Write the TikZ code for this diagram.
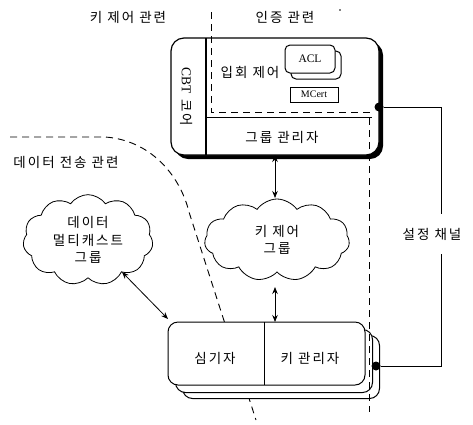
\documentclass[tikz,border=0pt]{standalone}
\usepackage{fontspec}
\setmainfont{Liberation Serif}
\newfontfamily\kr[LetterSpace=15]{Noto Sans CJK KR}
\usetikzlibrary{shapes.symbols,arrows.meta}
\begin{document}
\begin{tikzpicture}[x=1pt,y=-1pt,
  kt/.style={font=\kr\fontsize{13.5}{16}\selectfont, inner sep=1pt},
  dsh/.style={dash pattern=on 7pt off 5pt, line width=0.9pt},
  arr/.style={{Stealth[length=7pt,width=5.5pt]}-{Stealth[length=7pt,width=5.5pt]}, line width=0.8pt},
  box/.style={draw, line width=1pt, fill=white},
  cld/.style={draw, cloud, cloud puffs=11, cloud puff arc=110, aspect=1.6, line width=0.8pt, fill=white, align=center, font=\kr\fontsize{13.5}{17.5}\selectfont},
  dot/.style={circle, fill=black, inner sep=0pt, minimum size=9pt}]
\useasboundingbox (0,0) rectangle (473,424);
% labels of regions
\node[kt] (lkey) at (128,17) {키 제어 관련};
\node[kt] (lauth) at (285,17) {인증 관련};
\fill (340,10) circle (0.9);
\node[kt] (ldata) at (66,162) {데이터 전송 관련};
% main core box
\node[fill=black, rounded corners=13pt, minimum width=208pt, minimum height=117pt, inner sep=0pt] (coresh) at (279,100.5) {};
\node[box, line width=1.2pt, rounded corners=13pt, minimum width=208pt, minimum height=117pt, inner sep=0pt] (core) at (275,96.5) {};
\draw[line width=1.6pt] (206,38) -- (206,155);
\draw[line width=1pt] (206,117) -- (372,117);
\node[kt, rotate=-90] (cbt) at (187,97) {{\rmfamily CBT} 코어};
\node[kt] (admit) at (250,72) {입회 제어};
\node[box, rounded corners=5pt, minimum width=50pt, minimum height=28pt, inner sep=0pt] (aclb) at (316,65) {};
\node[box, rounded corners=5pt, minimum width=50pt, minimum height=28pt, inner sep=0pt, font=\fontsize{11.5}{13}\selectfont] (acl) at (310,59) {ACL};
\node[draw, line width=0.9pt, minimum width=48pt, minimum height=15pt, inner sep=0pt, font=\fontsize{10}{11}\selectfont] (mcert) at (314,94.5) {MCert};
\node[kt] (gm) at (282,137) {그룹 관리자};
% dashed boundaries
\draw[dsh] (211,12) -- (211,112) -- (369,112) -- (369,412);
\draw[dsh] (10,137) -- (105,137) .. controls (150,140) and (180,175) .. (189,212) -- (256,420);
% clouds
\node[cld, minimum width=145pt, minimum height=82pt] (kcloud) at (277,240) {키 제어\\그룹};
\node[cld, minimum width=130pt, minimum height=82pt] (dcloud) at (88,240) {데이터\\멀티캐스트\\그룹};
% bottom stacked box
\node[box, rounded corners=10pt, minimum width=197pt, minimum height=63pt, inner sep=0pt] (bb2) at (281,367) {};
\node[box, rounded corners=10pt, minimum width=197pt, minimum height=63pt, inner sep=0pt] (bb1) at (274,361) {};
\node[box, rounded corners=10pt, minimum width=197pt, minimum height=63pt, inner sep=0pt] (bb) at (266.5,353.5) {};
\draw[line width=1pt] (264,322) -- (264,385);
\node[kt] (enc) at (215,358) {심기자};
\node[kt] (km) at (310,358) {키 관리자};
\draw[dsh] (369,322) -- (369,400);
% arrows
\coordinate (a1) at (275,155);
\coordinate (a2) at (275,198);
\coordinate (a3) at (275,287);
\coordinate (a4) at (275,322);
\coordinate (a5) at (122,272);
\coordinate (a6) at (168,319);
\draw[arr] (a1) -- (a2);
\draw[arr] (a3) -- (a4);
\draw[arr] (a5) -- (a6);
% setting channel
\node[dot] (d1) at (379,107) {};
\node[dot] (d2) at (376,366) {};
\node[kt] (ch) at (432,234) {설정 채널};
\coordinate (c1) at (441,214);
\coordinate (c2) at (441,254);
\draw[line width=1pt] (d1) -| (c1);
\draw[line width=1pt] (c2) |- (d2);
\end{tikzpicture}
\end{document}
